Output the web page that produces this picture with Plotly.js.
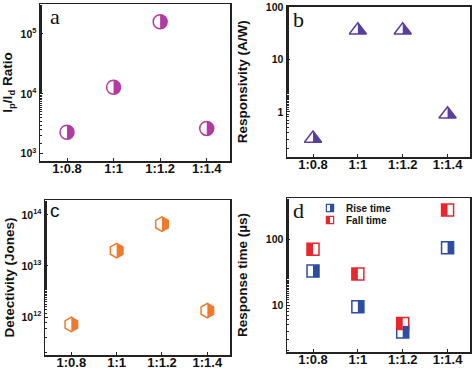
<!DOCTYPE html>
<html><head><meta charset="utf-8">
<script src="https://cdn.plot.ly/plotly-3.0.1.min.js"></script>
<style>html,body{margin:0;padding:0;background:#fff}#plot{width:474px;height:370px}</style>
</head><body><div id="plot"></div>
<script>
var ratios = ['1:0.8', '1:1', '1:1.2', '1:1.4'];
var onOffRatio = [2290, 12900, 160000, 2650];
var responsivity = [0.31, 36, 36, 0.9];
var detectivity = [7.2e11, 2.0e13, 6.6e13, 1.34e12];
var riseTime = [32.9, 9.4, 3.9, 74.5];
var fallTime = [70.5, 29.7, 5.25, 279];

var ticksA = [1e3, 1e4, 1e5], labelsA = ['10<sup>3</sup>', '10<sup>4</sup>', '10<sup>5</sup>'];
var ticksB = [1, 10, 100], labelsB = ['1', '10', '100'];
var ticksC = [1e12, 1e13, 1e14], labelsC = ['10<sup>12</sup>', '10<sup>13</sup>', '10<sup>14</sup>'];
var ticksD = [10, 100], labelsD = ['10', '100'];

var cMag = '#b23aa0', cPur = '#5a3e9e', cOra = '#f07a2c', cBlu = '#2b4ea2', cRed = '#e8262c';
var idx = ratios.map(function(_, i){ return i; });
function bold(a){ return a.map(function(s){ return '<b>' + s + '</b>'; }); }

function pts(xa, ya, vals, sym, size, col, name) {
  return {type:'scatter', mode:'markers', x: ratios, y: vals, xaxis: xa, yaxis: ya, name: name,
    showlegend:false, hoverinfo:'x+y',
    marker:{symbol: sym, size: size, color:'#ffffff', line:{color: col, width:1.5}}};
}
var data = [
  pts('x','y', onOffRatio, 'circle', 14, cMag, 'Ip/Id'),
  pts('x2','y2', responsivity, 'triangle-up', 15, cPur, 'Responsivity'),
  pts('x3','y3', detectivity, 'hexagon', 14.5, cOra, 'Detectivity'),
  pts('x4','y4', riseTime, 'square', 12, cBlu, 'Rise time'),
  pts('x4','y4', fallTime, 'square', 12, cRed, 'Fall time')
];

var k = 0.5523;
function halfCircle(r){ return 'M0,'+r+' C'+(k*r)+','+r+' '+r+','+(k*r)+' '+r+',0 C'+r+','+(-k*r)+' '+(k*r)+','+(-r)+' 0,'+(-r)+' Z'; }
function halfTri(r){ var rt = r*2/Math.sqrt(3); return 'M0,'+r+' L'+rt+','+(-r/2)+' L0,'+(-r/2)+' Z'; }
function halfHex(r){ var rt = r*Math.sqrt(3)/2; return 'M0,'+r+' L'+rt+','+(r/2)+' L'+rt+','+(-r/2)+' L0,'+(-r)+' Z'; }
function rightSq(r){ return 'M0,'+r+' L'+r+','+r+' L'+r+','+(-r)+' L0,'+(-r)+' Z'; }
function leftSq(r){ return 'M'+(-r)+','+r+' L0,'+r+' L0,'+(-r)+' L'+(-r)+','+(-r)+' Z'; }

var shapes = [];
function halves(xr, yr, vals, path, col){
  vals.forEach(function(v, i){
    shapes.push({type:'path', xref: xr, yref: yr, xsizemode:'pixel', ysizemode:'pixel',
      xanchor: idx[i], yanchor: v, path: path, fillcolor: col, line:{width:0}, layer:'above'});
  });
}
halves('x','y', onOffRatio, halfCircle(7), cMag);
halves('x2','y2', responsivity, halfTri(7.5), cPur);
halves('x3','y3', detectivity, halfHex(7.25), cOra);
halves('x4','y4', riseTime, rightSq(6), cBlu);
halves('x4','y4', fallTime, leftSq(6), cRed);

// legend for panel d (paper coordinates)
var legX = 330/474, legY = [1-208/370, 1-220/370];
[['Rise time', cBlu, rightSq(3.6)], ['Fall time', cRed, leftSq(3.6)]].forEach(function(e, j){
  shapes.push({type:'path', xref:'paper', yref:'paper', xsizemode:'pixel', ysizemode:'pixel',
    xanchor: legX, yanchor: legY[j], path:'M-3.6,3.6 L3.6,3.6 L3.6,-3.6 L-3.6,-3.6 Z',
    fillcolor:'#ffffff', line:{color:e[1], width:1.2}, layer:'above'});
  shapes.push({type:'path', xref:'paper', yref:'paper', xsizemode:'pixel', ysizemode:'pixel',
    xanchor: legX, yanchor: legY[j], path: e[2], fillcolor: e[1], line:{width:0}, layer:'above'});
});

var tf = {family:'Liberation Sans, Arial, sans-serif', size:13, color:'#111'};
var ytf = {family:'Liberation Sans, Arial, sans-serif', size:10.5, color:'#111'};
var ttf = {family:'Liberation Sans, Arial, sans-serif', size:13.5, color:'#111', weight:'bold'};
function xax(dom, anchor){
  return {domain: dom, anchor: anchor, type:'category', range:[-0.58, 3.5], showline:true, mirror:true,
    linecolor:'#222', linewidth:1.5, ticks:'inside', ticklen:3, tickcolor:'#222', showgrid:false,
    zeroline:false, tickvals: ratios, ticktext: bold(ratios), tickfont: tf, ticklabelstandoff:-5,
    fixedrange:true};
}
function yax(dom, anchor, rng, tv, tt, title, standoff){
  return {domain: dom, anchor: anchor, type:'log', range: rng, showline:true, mirror:true,
    linecolor:'#222', linewidth:1.5, ticks:'inside', ticklen:3, tickcolor:'#222', showgrid:false,
    zeroline:false, tickvals: tv, ticktext: bold(tt), tickfont: ytf, ticklabeloverflow:'allow',
    minor:{ticks:'inside', ticklen:1.5, tickcolor:'#222', showgrid:false},
    title:{text: '<b>' + title + '</b>', font: ttf, standoff: standoff}, fixedrange:true};
}
var layout = {
  width:474, height:370, margin:{l:0, r:0, t:0, b:0}, paper_bgcolor:'#fff', plot_bgcolor:'#fff',
  showlegend:false,
  xaxis: xax([40/474, 230/474], 'y'),
  yaxis: yax([1-161/370, 1-4/370], 'x', [2.88, 5.5], ticksA, labelsA, 'I<sub>p</sub>/I<sub>d</sub> Ratio', 9),
  xaxis2: xax([287/474, 470/474], 'y2'),
  yaxis2: yax([1-157/370, 1-6.5/370], 'x2', [-0.86, 2.01], ticksB, labelsB, 'Responsivity (A/W)', 15),
  xaxis3: xax([45/474, 230/474], 'y3'),
  yaxis3: yax([1-355/370, 1-200/370], 'x3', [11.26, 14.29], ticksC, labelsC, 'Detectivity (Jones)', 4),
  xaxis4: xax([287/474, 470/474], 'y4'),
  yaxis4: yax([1-352/370, 1-198/370], 'x4', [0.285, 2.63], ticksD, labelsD, 'Response time (\u00b5s)', 15),
  shapes: shapes,
  annotations: [
    {text:'a', xref:'paper', yref:'paper', x:48/474, y:1-17/370, xanchor:'left', yanchor:'middle', showarrow:false,
      font:{family:'Liberation Serif, Times New Roman, serif', size:22, color:'#111'}},
    {text:'b', xref:'paper', yref:'paper', x:291/474, y:1-19/370, xanchor:'left', yanchor:'middle', showarrow:false,
      font:{family:'Liberation Serif, Times New Roman, serif', size:22, color:'#111'}},
    {text:'c', xref:'paper', yref:'paper', x:48/474, y:1-210/370, xanchor:'left', yanchor:'middle', showarrow:false,
      font:{family:'Liberation Sans, Arial, sans-serif', size:19, color:'#111'}},
    {text:'d', xref:'paper', yref:'paper', x:291/474, y:1-211/370, xanchor:'left', yanchor:'middle', showarrow:false,
      font:{family:'Liberation Serif, Times New Roman, serif', size:22, color:'#111'}},
    {text:'<b>Rise time</b>', xref:'paper', yref:'paper', x:344/474, y:legY[0], xanchor:'left', yanchor:'middle', showarrow:false,
      font:{family:'Liberation Sans, Arial, sans-serif', size:10, color:'#111'}},
    {text:'<b>Fall time</b>', xref:'paper', yref:'paper', x:344/474, y:legY[1], xanchor:'left', yanchor:'middle', showarrow:false,
      font:{family:'Liberation Sans, Arial, sans-serif', size:10, color:'#111'}}
  ]
};
Plotly.newPlot('plot', data, layout, {displayModeBar:false, staticPlot:true});
</script></body></html>
